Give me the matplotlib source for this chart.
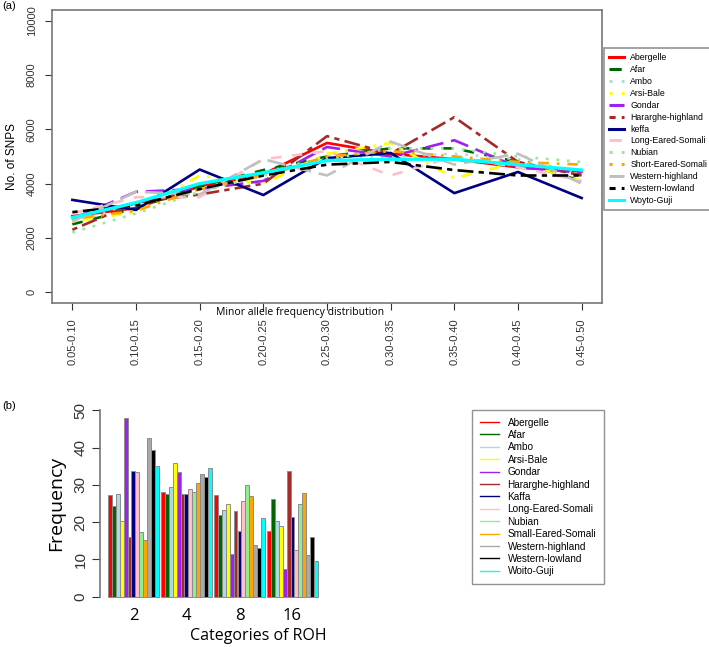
import numpy as np
import matplotlib
matplotlib.use('Agg')
import matplotlib.pyplot as plt
from matplotlib.lines import Line2D

plt.rcParams['font.family'] = ['Liberation Sans', 'DejaVu Sans']

# ---- panel (a): SNP counts per MAF bin ----
maf_bins = ["0.05-0.10", "0.10-0.15", "0.15-0.20", "0.20-0.25", "0.25-0.30",
            "0.30-0.35", "0.35-0.40", "0.40-0.45", "0.45-0.50"]
breeds_a = ["Abergelle", "Afar", "Ambo", "Arsi-Bale", "Gondar", "Hararghe-highland",
            "keffa", "Long-Eared-Somali", "Nubian", "Short-Eared-Somali",
            "Western-highland", "Western-lowland", "Woyto-Guji"]
abergelle = [2800, 3100, 3900, 4350, 5500, 5100, 4900, 4600, 4450]
afar = [2500, 3100, 3900, 4500, 5000, 5300, 5300, 4800, 4100]
ambo = [2600, 3200, 3800, 4400, 5000, 5000, 5100, 4900, 4400]
arsi_bale = [2600, 2950, 4300, 4000, 5100, 5500, 4200, 4800, 4100]
gondar = [2700, 3700, 3800, 4100, 5350, 5000, 5600, 4600, 4400]
hararghe = [2300, 3300, 3600, 4000, 5750, 5100, 6450, 4800, 4300]
keffa = [3400, 3030, 4520, 3580, 4940, 5130, 3650, 4430, 3470]
long_eared = [2900, 3500, 3500, 4900, 5200, 4300, 5000, 4600, 4100]
nubian = [2200, 2900, 3700, 4300, 4900, 5300, 5300, 5000, 4800]
short_eared = [2700, 3000, 3800, 4300, 5000, 5200, 5000, 4800, 4700]
west_high = [2600, 3700, 3600, 4900, 4300, 5550, 4700, 5100, 4000]
west_low = [2950, 3200, 3800, 4300, 4700, 4800, 4500, 4300, 4300]
woyto_guji = [2750, 3300, 4000, 4400, 4850, 4900, 4900, 4700, 4500]
series_a = [abergelle, afar, ambo, arsi_bale, gondar, hararghe, keffa,
            long_eared, nubian, short_eared, west_high, west_low, woyto_guji]

colors_a = ['red', 'darkgreen', 'lightblue', 'yellow', '#A020F0', 'brown', 'navy',
            'pink', 'lightgreen', 'orange', 'silver', 'black', 'cyan']
# R lty 1..6 cycle
lty = ['-', (0, (4, 4)), (0, (1, 3)), (0, (1, 3, 4, 3)), (0, (7, 3)), (0, (2, 2, 6, 2))]

# ---- panel (b): ROH frequency per category ----
roh_cats = ["2", "4", "8", "16"]
breeds_b = ["Abergelle", "Afar", "Ambo", "Arsi-Bale", "Gondar", "Hararghe-highland",
            "Kaffa", "Long-Eared-Somali", "Nubian", "Small-Eared-Somali",
            "Western-highland", "Western-lowland", "Woito-Guji"]
roh_2 = [27.2, 24.4, 27.5, 20.4, 48.1, 16.1, 33.8, 33.5, 17.3, 15.2, 42.5, 39.3, 35.2]
roh_4 = [28.2, 27.6, 29.4, 35.9, 33.4, 27.6, 27.6, 28.9, 28.0, 30.4, 33.0, 32.1, 34.5]
roh_8 = [27.2, 21.9, 23.2, 25.0, 11.5, 22.9, 17.5, 25.8, 30.1, 26.9, 13.8, 13.1, 21.2]
roh_16 = [17.5, 26.3, 20.2, 18.9, 7.4, 33.6, 21.4, 12.4, 24.8, 27.8, 11.2, 15.9, 9.6]
roh = [roh_2, roh_4, roh_8, roh_16]
colors_b = ['red', 'darkgreen', 'lightblue', 'yellow', '#A020F0', 'brown', 'navy',
            'pink', 'lightgreen', 'orange', 'darkgrey', 'black', 'cyan']

W, H = 709, 647
fig = plt.figure(figsize=(W / 100, H / 100), dpi=100)


def box(l, t, r, b):
    return [l / W, 1 - b / H, (r - l) / W, (b - t) / H]


# panel (a)
ax = fig.add_axes(box(52, 10, 602, 303))
x = np.arange(len(maf_bins))
for i, (name, vals) in enumerate(zip(breeds_a, series_a)):
    lw = 2.4 if name == "Woyto-Guji" else 1.9
    ax.plot(x, vals, color=colors_a[i], linestyle=lty[i % 6], linewidth=lw, label=name)
ax.set_xlim(-0.32, 8.32)
ax.set_ylim(-400, 10400)
ax.set_yticks(np.arange(0, 10001, 2000))
ax.set_yticklabels([str(v) for v in range(0, 10001, 2000)], rotation=90, va='center')
ax.set_xticks(x)
ax.set_xticklabels(maf_bins, rotation=90)
ax.tick_params(labelsize=8, colors='#333333', length=5, pad=6)
for s in ax.spines.values():
    s.set_color('#777777')
    s.set_linewidth(1.2)
ax.set_ylabel("No. of SNPS", fontsize=8.5, labelpad=6)
fig.text(300 / W, 1 - 312 / H, "Minor allele frequency distribution", fontsize=7.5,
         family=['Open Sans', 'DejaVu Sans'], ha='center', va='center')

handles_a = [Line2D([], [], color=colors_a[i], linestyle=lty[i % 6], linewidth=2.2)
             for i in range(len(breeds_a))]
leg = fig.legend(handles_a, breeds_a, loc='upper left',
                 bbox_to_anchor=(604 / W, 1 - 48 / H),
                 prop={'family': ['Liberation Sans Narrow', 'Liberation Sans'], 'size': 6.3},
                 frameon=True, fancybox=False, edgecolor='#777777',
                 handlelength=1.7, handletextpad=0.7, labelspacing=0.33,
                 borderpad=0.6, borderaxespad=0)
leg.get_frame().set_linewidth(1.2)

fig.text(2 / W, 1 - 6 / H, "(a)", fontsize=8, va='center')
fig.text(2 / W, 1 - 406 / H, "(b)", fontsize=8, va='center')

# panel (b)
bx = fig.add_axes(box(100, 403, 320, 604))
n = len(breeds_b)
gap = 0.5
centers = []
for g, vals in enumerate(roh):
    start = g * (n + gap)
    xs = start + np.arange(n) + 0.5
    bx.bar(xs, vals, width=1.0, color=colors_b, edgecolor='#8c8c8c', linewidth=0.7)
    centers.append(start + n / 2)
total = len(roh) * n + (len(roh) - 1) * gap
bx.set_xlim(-2.0, total + 0.5)
bx.set_ylim(-2, 52)
for s in ['top', 'right', 'bottom']:
    bx.spines[s].set_visible(False)
bx.spines['left'].set_bounds(0, 50)
bx.spines['left'].set_color('#777777')
bx.spines['left'].set_linewidth(1.2)
bx.set_yticks(np.arange(0, 51, 10))
bx.set_yticklabels([str(v) for v in range(0, 51, 10)], rotation=90, va='center')
bx.tick_params(axis='y', labelsize=11, colors='#333333', length=6, pad=3)
bx.set_xticks(centers)
bx.set_xticklabels(roh_cats, fontsize=12, family=['Open Sans', 'DejaVu Sans'])
bx.tick_params(axis='x', length=0, pad=3)
bx.set_ylabel("Frequency", fontsize=14, family=['Open Sans', 'DejaVu Sans'], labelpad=6)
fig.text(258 / W, 1 - 636 / H, "Categories of ROH", fontsize=11.5,
         family=['Open Sans', 'DejaVu Sans'], ha='center', va='center')

handles_b = [Line2D([], [], color=c, linewidth=1.0) for c in colors_b]
leg_b = fig.legend(handles_b, breeds_b, loc='upper left',
                   bbox_to_anchor=(472 / W, 1 - 410 / H), fontsize=7.2,
                   frameon=True, fancybox=False, edgecolor='#777777',
                   handlelength=1.9, handletextpad=0.9, labelspacing=0.24,
                   borderpad=0.75, borderaxespad=0)
leg_b.get_frame().set_linewidth(1.0)

fig.savefig("out.png", dpi=100)
